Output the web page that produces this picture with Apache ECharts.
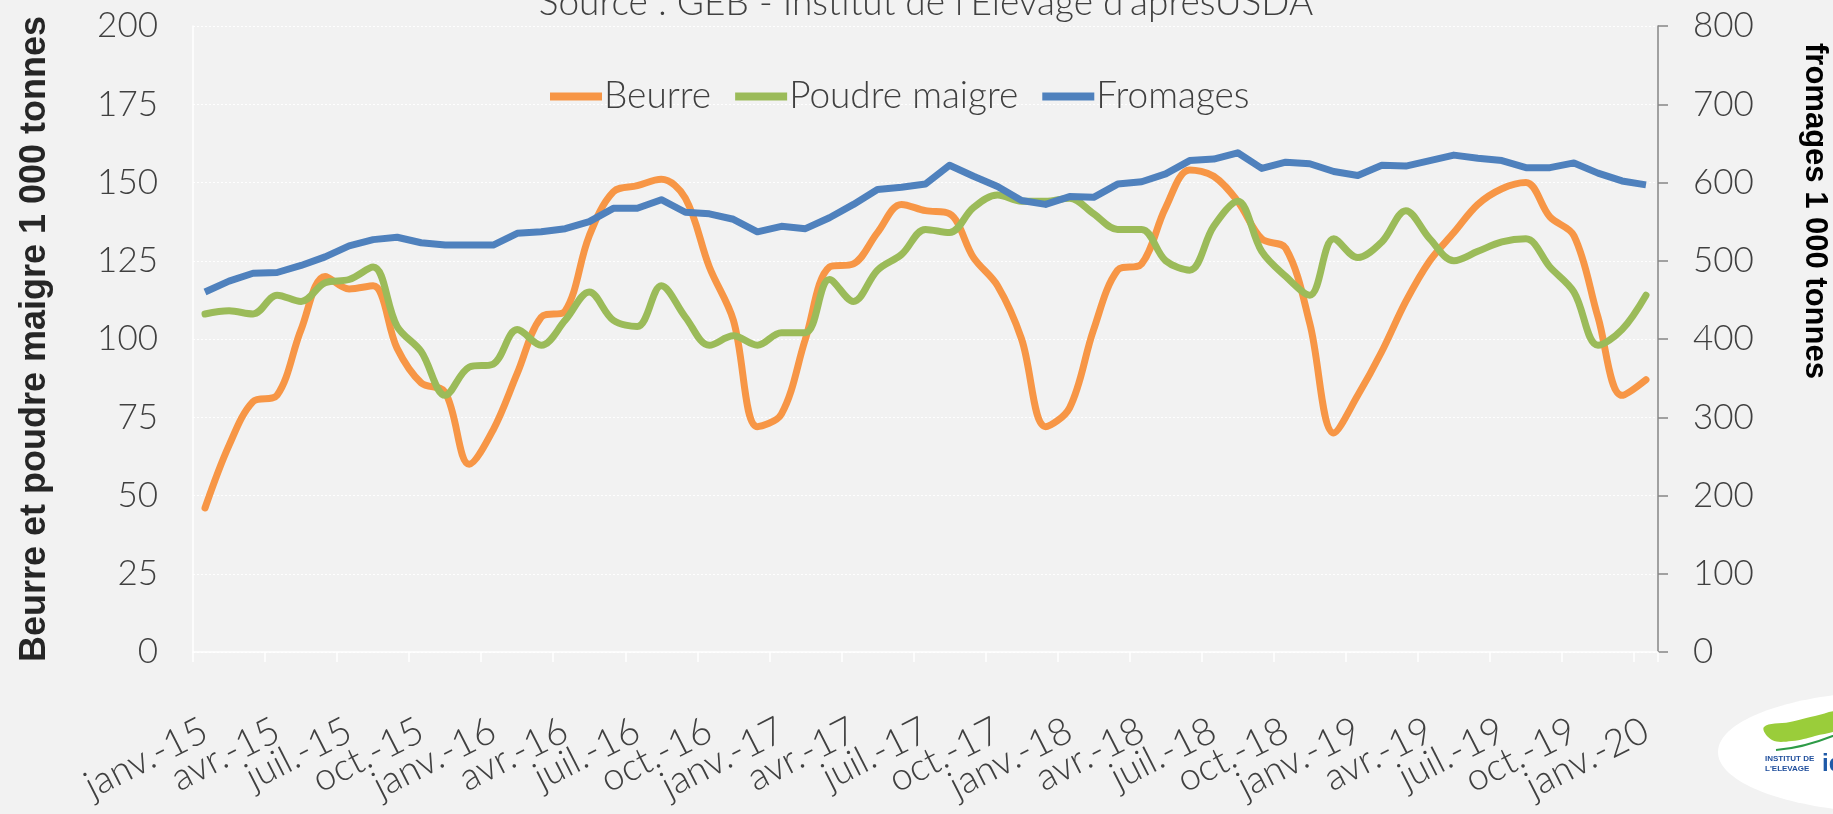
<!DOCTYPE html>
<html>
<head>
<meta charset="utf-8">
<script src="https://cdn.jsdelivr.net/npm/echarts@6/dist/echarts.min.js"></script>
<style>
  html, body { margin: 0; padding: 0; background: #f2f2f2; }
  #chart { width: 1833px; height: 814px; }
</style>
</head>
<body>
<div id="chart"></div>
<script>
// Mois (janv. 2015 -> janv. 2020)
const months = [
  'janv.-15','févr.-15','mars-15','avr.-15','mai-15','juin-15','juil.-15','août-15','sept.-15','oct.-15','nov.-15','déc.-15',
  'janv.-16','févr.-16','mars-16','avr.-16','mai-16','juin-16','juil.-16','août-16','sept.-16','oct.-16','nov.-16','déc.-16',
  'janv.-17','févr.-17','mars-17','avr.-17','mai-17','juin-17','juil.-17','août-17','sept.-17','oct.-17','nov.-17','déc.-17',
  'janv.-18','févr.-18','mars-18','avr.-18','mai-18','juin-18','juil.-18','août-18','sept.-18','oct.-18','nov.-18','déc.-18',
  'janv.-19','févr.-19','mars-19','avr.-19','mai-19','juin-19','juil.-19','août-19','sept.-19','oct.-19','nov.-19','déc.-19',
  'janv.-20'
];

// Beurre, 1 000 tonnes (axe de gauche)
const beurre = [
  46, 66, 80, 82, 103, 120, 116, 117, 97, 86, 83, 60,
  71, 89, 107, 109, 133, 147, 149, 151, 145, 123, 106, 72,
  76, 100, 123, 124, 134, 143, 141, 140, 126, 117, 100, 72,
  78, 103, 122, 124, 142, 154, 152, 144, 132, 129, 105, 70,
  82, 96, 112, 125, 134, 143, 148, 150, 139, 133, 107, 82,
  87
];

// Poudre maigre, 1 000 tonnes (axe de gauche)
const poudre = [
  108, 109, 108, 114, 112, 118, 119, 123, 104, 96, 82, 91,
  92, 103, 98, 106, 115, 106, 104, 117, 107, 98, 101, 98,
  102, 102, 119, 112, 122, 127, 135, 134, 142, 146, 144, 144,
  145, 140, 135, 135, 125, 122, 136, 144, 128, 120, 114, 132,
  126, 131, 141, 132, 125, 128, 131, 132, 123, 115, 98, 103,
  114
];

// Fromages, 1 000 tonnes (axe de droite)
const fromages = [
  460, 474, 484, 485, 494, 505, 519, 527, 530, 523, 520, 520,
  520, 535, 537, 541, 550, 567, 567, 578, 562, 560, 553, 537,
  544, 541, 555, 572, 591, 594, 598, 622, 608, 595, 577, 572,
  582, 581, 598, 601, 611, 628, 630, 638, 618, 626, 624, 614,
  609, 622, 621, 628, 635, 631, 628, 619, 619, 625, 612, 602,
  597
];

const seriesNames = ['Beurre', 'Poudre maigre', 'Fromages'];
const colors = ['#F79646', '#9BBB59', '#4F81BD'];

// one month label out of three is written under the axis
const LABEL_STEP = 3;

const labelFont = { fontFamily: 'Lato', fontWeight: 300, color: '#404040' };

const chart = echarts.init(document.getElementById('chart'), null, { renderer: 'canvas' });

chart.setOption({
  animation: false,
  backgroundColor: '#f2f2f2',
  color: colors,
  grid: { left: 193, right: 175, top: 26, bottom: 162, containLabel: false },
  legend: {
    data: seriesNames,
    left: 545,
    top: 73,
    icon: 'rect',
    itemWidth: 52,
    itemHeight: 8,
    itemGap: 24,
    textStyle: Object.assign({ fontSize: 37, padding: [0, 0, 0, -3] }, labelFont)
  },
  xAxis: {
    type: 'category',
    data: months,
    boundaryGap: true,
    axisLine: { show: true, lineStyle: { color: '#ffffff', width: 1.5 } },
    axisTick: { show: true, interval: LABEL_STEP - 1, length: 10, lineStyle: { color: '#ffffff', width: 1.5 } },
    axisLabel: Object.assign({
      interval: 0, rotate: 27, margin: 76, fontSize: 38,
      hideOverlap: false,
      formatter: function (value, index) { return index % LABEL_STEP === 0 ? value : ''; }
    }, labelFont),
    splitLine: { show: false }
  },
  yAxis: [
    {
      type: 'value',
      min: 0, max: 200, interval: 25,
      name: 'Beurre et poudre maigre 1 000 tonnes',
      nameLocation: 'middle',
      nameGap: 140,
      nameTextStyle: { fontFamily: 'Liberation Sans', fontWeight: 'bold', fontSize: 36, color: '#262626' },
      axisLine: { show: true, lineStyle: { color: '#ffffff', width: 1.5 } },
      axisTick: { show: false },
      axisLabel: Object.assign({ margin: 35, fontSize: 35 }, labelFont),
      splitLine: { show: true, lineStyle: { color: '#ffffff', width: 1, type: [2, 2] } }
    },
    {
      type: 'value',
      min: 0, max: 800, interval: 100,
      position: 'right',
      axisLine: { show: true, lineStyle: { color: '#868686', width: 1.5 } },
      axisTick: { show: true, inside: false, length: 10, lineStyle: { color: '#868686', width: 1.5 } },
      axisLabel: Object.assign({ margin: 35, fontSize: 35 }, labelFont),
      splitLine: { show: false }
    }
  ],
  series: [
    {
      name: 'Beurre', type: 'line', yAxisIndex: 0, data: beurre,
      smooth: 0.35, showSymbol: false, symbol: 'none',
      lineStyle: { width: 7, color: colors[0], cap: 'round', join: 'round' },
      itemStyle: { color: colors[0] }
    },
    {
      name: 'Poudre maigre', type: 'line', yAxisIndex: 0, data: poudre,
      smooth: 0.35, showSymbol: false, symbol: 'none',
      lineStyle: { width: 7, color: colors[1], cap: 'round', join: 'round' },
      itemStyle: { color: colors[1] }
    },
    {
      name: 'Fromages', type: 'line', yAxisIndex: 1, data: fromages,
      smooth: false, showSymbol: false, symbol: 'none',
      lineStyle: { width: 7, color: colors[2], join: 'round' },
      itemStyle: { color: colors[2] }
    }
  ],
  graphic: [
    // source line across the top
    {
      type: 'text', x: 926, y: 22, silent: true,
      style: {
        text: "Source : GEB - Institut de l'Elevage d'aprèsUSDA",
        fontFamily: 'Lato', fontWeight: 300, fontSize: 37, fill: '#404040',
        align: 'center', verticalAlign: 'bottom',
        textAlign: 'center', textVerticalAlign: 'bottom'
      }
    },
    // right-hand axis title, reading downwards
    {
      type: 'text', x: 1815, y: 43, rotation: -Math.PI / 2, silent: true,
      style: {
        text: 'fromages 1 000 tonnes',
        fontFamily: 'Liberation Sans', fontWeight: 'bold', fontSize: 31, fill: '#000000',
        align: 'left', verticalAlign: 'middle',
        textAlign: 'left', textVerticalAlign: 'middle'
      }
    },
    // Institut de l'Elevage logo, bottom right corner
    {
      type: 'group', silent: true,
      children: [
        { type: 'ellipse', shape: { cx: 1900, cy: 752, rx: 182, ry: 61 }, style: { fill: '#ffffff' } },
        {
          type: 'polygon',
          shape: { points: [[1764, 727], [1790, 722], [1815, 716], [1840, 712], [1840, 728], [1815, 736], [1792, 741], [1772, 740]], smooth: 0.4 },
          style: { fill: '#9ACD3A' }
        },
        {
          type: 'bezierCurve',
          shape: { x1: 1776, y1: 750, cpx1: 1805, cpy1: 748, x2: 1840, y2: 733 },
          style: { stroke: '#2E9B47', lineWidth: 2, fill: null }
        },
        {
          type: 'text', x: 1765, y: 755,
          style: { text: 'INSTITUT DE', fontFamily: 'Liberation Sans', fontWeight: 'bold', fontSize: 8, fill: '#1F4E9C' }
        },
        {
          type: 'text', x: 1765, y: 765,
          style: { text: "L'ELEVAGE", fontFamily: 'Liberation Sans', fontWeight: 'bold', fontSize: 8, fill: '#1F4E9C' }
        },
        {
          type: 'text', x: 1822, y: 752,
          style: { text: 'idele', fontFamily: 'Liberation Sans', fontWeight: 'bold', fontSize: 24, fill: '#1F5AA8' }
        }
      ]
    }
  ]
});
</script>
</body>
</html>
